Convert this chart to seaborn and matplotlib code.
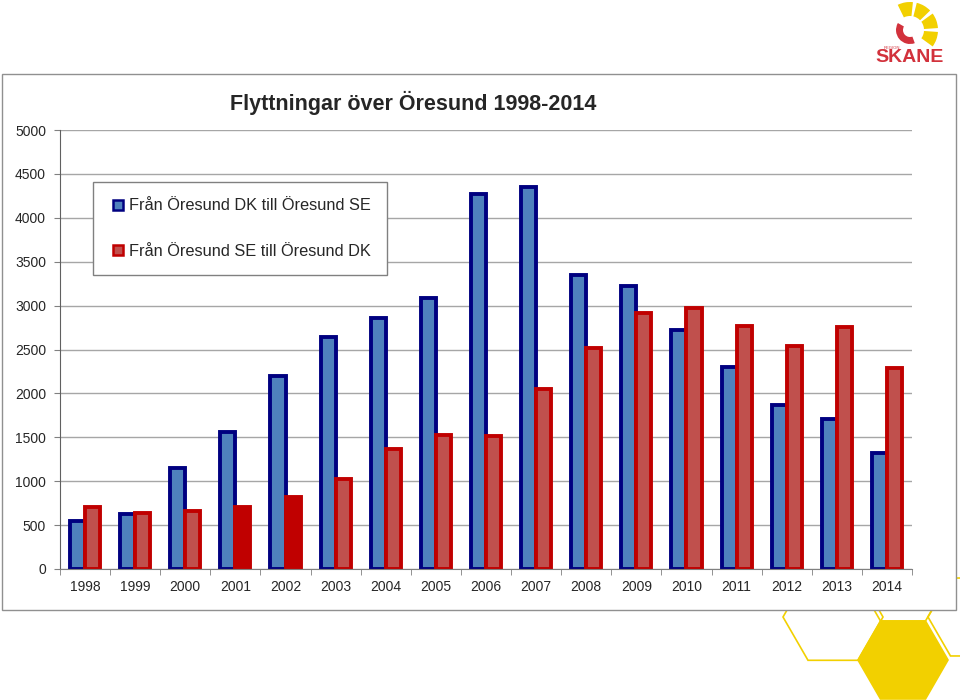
import numpy as np
import pandas as pd
import matplotlib.pyplot as plt
import seaborn as sns
from matplotlib.patches import RegularPolygon, Rectangle, Wedge
from matplotlib.lines import Line2D

# Data
years = [str(y) for y in range(1998, 2015)]
dk_to_se = [550, 630, 1150, 1560, 2200, 2640, 2860, 3090, 4270, 4350,
            3350, 3220, 2720, 2300, 1870, 1710, 1320]
se_to_dk = [705, 640, 660, 705, 820, 1025, 1365, 1525, 1515, 2050,
            2515, 2915, 2975, 2770, 2540, 2755, 2290]
labels = ['Från Öresund DK till Öresund SE', 'Från Öresund SE till Öresund DK']
y_ticks = list(range(0, 5001, 500))

df = pd.DataFrame({
    'År': years * 2,
    'Antal': dk_to_se + se_to_dk,
    'Riktning': [labels[0]] * len(years) + [labels[1]] * len(years),
})

sns.set_style('white')
plt.rcParams['font.family'] = ['Liberation Sans', 'DejaVu Sans']

fig = plt.figure(figsize=(9.6, 7), dpi=100)

# decorative hexagons bottom right (drawn behind the chart frame)
for cx, cy, r, filled in [(903, 660, 45, True), (833, 617, 50, False),
                          (903, 582, 45, False), (973, 617, 45, False)]:
    h = RegularPolygon((0, 0), numVertices=6, radius=1, orientation=np.pi / 6)
    verts = h.get_path().vertices[:, [1, 0]] * r
    xs = (cx + verts[:, 0]) / 960
    ys = 1 - (cy + verts[:, 1]) / 700
    fig.patches.append(plt.Polygon(np.column_stack([xs, ys]), closed=True,
                                   transform=fig.transFigure,
                                   facecolor='#F2D000' if filled else 'none',
                                   edgecolor='#F2D000', linewidth=1.2, zorder=-3))

# outer chart frame
fig.patches.append(Rectangle((2 / 960, 1 - 610 / 700), 954 / 960, 536 / 700,
                             transform=fig.transFigure, facecolor='white',
                             edgecolor='#909090', linewidth=1, zorder=-2))

ax = fig.add_axes([60 / 960, 131 / 700, 852 / 960, 439 / 700])
ax.patch.set_alpha(0)

fills = ['#4F81BD', '#C0504D']
edges = ['#000080', '#C00000']
sns.barplot(data=df, x='År', y='Antal', hue='Riktning', palette=fills,
            width=0.6, ax=ax, legend=False, saturation=1)

for cont, ec in zip(ax.containers, edges):
    for bar in cont:
        bar.set_edgecolor(ec)
        bar.set_linewidth(2.8)
# 2001 and 2002 red bars are solid red
for i in (3, 4):
    ax.containers[1][i].set_facecolor('#C00000')

ax.set_ylim(0, 5000)
ax.set_xlim(-0.48, 16.5)
ax.set_yticks(y_ticks)
ax.set_yticklabels([str(v) for v in y_ticks], fontsize=10)
ax.set_xticks(range(len(years)))
ax.set_xticklabels(years, fontsize=10)
ax.set_xticks(np.arange(-0.5, 16.6, 1), minor=True)
ax.tick_params(axis='x', which='major', length=0, pad=8)
ax.tick_params(axis='x', which='minor', length=4, color='#808080', direction='out', bottom=True)
ax.tick_params(axis='y', length=4, color='#808080', direction='out', pad=6, left=True)
ax.grid(axis='y', color='#A6A6A6', linewidth=1)
ax.set_axisbelow(True)
ax.set_xlabel('')
ax.set_ylabel('')
for s in ['top', 'right']:
    ax.spines[s].set_visible(False)
ax.spines['left'].set_color('#606060')
ax.spines['bottom'].set_color('#808080')

handles = [Line2D([], [], marker='s', linestyle='', markersize=7,
                  markerfacecolor=f, markeredgecolor=e, markeredgewidth=1.8)
           for f, e in zip(fills, edges)]
leg = ax.legend(handles, labels, loc='upper left',
                bbox_to_anchor=(33 / 852, (569 - 182) / 439), borderaxespad=0,
                fontsize=11.8, labelspacing=1.87, handletextpad=0.2,
                handlelength=1.0, borderpad=1.0, fancybox=False,
                edgecolor='#808080', framealpha=1)
leg.get_frame().set_linewidth(1)

fig.text(230 / 960, 1 - 103 / 700, 'Flyttningar över Öresund 1998-2014',
         fontsize=15.5, fontweight='bold', va='center', ha='left')

# simple logo top right
logo_ax = fig.add_axes([870 / 960, 1 - 70 / 700, 80 / 960, 70 / 700])
logo_ax.set_xlim(0, 80)
logo_ax.set_ylim(0, 70)
logo_ax.axis('off')
for a in [-20, 20, 60, 100]:
    logo_ax.add_patch(Wedge((40, 40), 28, a - 16, a + 16, width=14,
                            facecolor='#F2D000', edgecolor='none'))
logo_ax.add_patch(Wedge((40, 40), 14, 150, 290, width=7,
                        facecolor='#D2323C', edgecolor='none'))
logo_ax.text(40, 12, 'SKANE', color='#D2323C', fontsize=14, fontweight='bold',
             ha='center', va='center')
logo_ax.text(14, 22, 'REGION', color='#D2323C', fontsize=3, ha='left', va='center')

fig.savefig('out.png', dpi=100)
